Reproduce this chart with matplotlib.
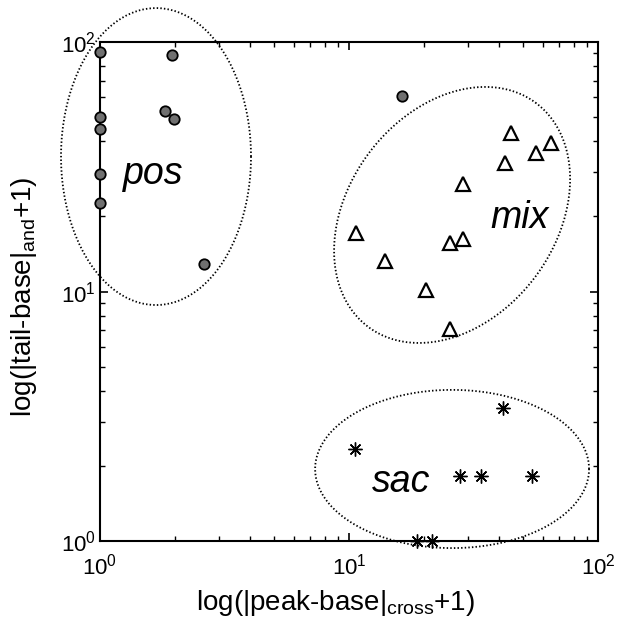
import numpy as np
import matplotlib
matplotlib.use("Agg")
import matplotlib.pyplot as plt

plt.rcParams["font.family"] = ["Liberation Sans", "DejaVu Sans"]
plt.rcParams["mathtext.fontset"] = "custom"
plt.rcParams["mathtext.rm"] = "Liberation Sans"
plt.rcParams["mathtext.it"] = "Liberation Sans:italic"

# pos group (grey circles)
pos_x = [1.0, 1.0, 1.0, 1.0, 1.0, 1.95, 1.83, 1.98, 2.62]
pos_y = [91.0, 50.2, 44.7, 29.7, 22.6, 88.5, 52.7, 49.0, 12.9]
# stray circle outside the group
extra_x = [16.3]
extra_y = [60.9]

# mix group (open triangles)
mix_x = [44.7, 64.5, 56.3, 42.2, 28.7, 10.7, 28.8, 25.4, 13.9, 20.4, 25.4]
mix_y = [43.1, 39.3, 35.8, 32.6, 27.1, 17.2, 16.3, 15.6, 13.2, 10.1, 7.07]

# sac group (asterisks)
sac_x = [41.6, 10.6, 27.9, 33.9, 54.5, 18.7, 21.5]
sac_y = [3.43, 2.35, 1.82, 1.82, 1.82, 1.0, 1.0]

# group outlines in log10 space: centre x, centre y, semi-axis a, semi-axis b, angle (deg)
ell_pos = (0.225, 1.541, 0.3815, 0.595, 0.0)
ell_mix = (1.414, 1.307, 0.561, 0.416, 52.9)
ell_sac = (1.414, 0.289, 0.550, 0.317, 0.0)

group_labels = ["pos", "mix", "sac"]
label_x = [1.63, 48.2, 16.2]
label_y = [27.1, 18.0, 1.576]


def ellipse_curve(cx, cy, a, b, ang):
    t = np.linspace(0, 2 * np.pi, 400)
    th = np.deg2rad(ang)
    u = cx + a * np.cos(t) * np.cos(th) - b * np.sin(t) * np.sin(th)
    v = cy + a * np.cos(t) * np.sin(th) + b * np.sin(t) * np.cos(th)
    return 10 ** u, 10 ** v


fig = plt.figure(figsize=(6.21, 6.27), dpi=100, facecolor="white")
ax = fig.add_axes([0.161, 0.137, 0.802, 0.796])
ax.set_xscale("log")
ax.set_yscale("log")
ax.set_xlim(1, 100)
ax.set_ylim(1, 100)

for ell in (ell_pos, ell_mix, ell_sac):
    ex, ey = ellipse_curve(*ell)
    ax.plot(ex, ey, color="black", lw=1.3, linestyle=(0, (0.8, 1.2)), clip_on=False)

ax.plot(pos_x + extra_x, pos_y + extra_y, "o", ms=7.5, mfc="#707070", mec="black",
        mew=1.3, linestyle="none", clip_on=False, zorder=5)
ax.plot(mix_x, mix_y, "^", ms=10, mfc="none", mec="black", mew=1.6,
        linestyle="none", clip_on=False, zorder=5)
ax.plot(sac_x, sac_y, marker=(8, 2, 0), ms=10, color="black", mew=1.0,
        linestyle="none", clip_on=False, zorder=5)

for txt, lx, ly in zip(group_labels, label_x, label_y):
    ax.text(lx, ly, txt, fontsize=27, style="italic", ha="center", va="baseline")

ax.set_xlabel(r"log(|peak-base|$_{\mathregular{cross}}$+1)", fontsize=20)
ax.set_ylabel(r"log(|tail-base|$_{\mathregular{and}}$+1)", fontsize=20)
ax.xaxis.set_label_coords(0.472, -0.125)
ax.yaxis.set_label_coords(-0.153, 0.489)
ax.xaxis.label.set_va("center")
ax.yaxis.label.set_va("center")

ax.tick_params(which="both", direction="in", top=True, right=True, labelsize=16)
ax.tick_params(axis="x", which="major", pad=9)
ax.tick_params(axis="y", which="major", pad=3)
ax.tick_params(which="major", length=6, width=1.2)
ax.tick_params(which="minor", length=3.5, width=1.0)
for sp in ax.spines.values():
    sp.set_linewidth(1.5)

fig.savefig("out.png", dpi=100, facecolor="white")
